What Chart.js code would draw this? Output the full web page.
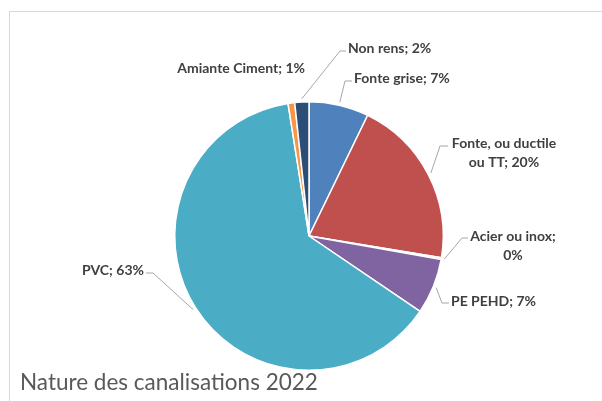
<!DOCTYPE html>
<html lang="fr">
  <head>
    <meta charset="UTF-8" />
    <script src="https://cdn.jsdelivr.net/npm/chart.js"></script>
    <title>Nature des canalisations 2022</title>
    <style>
      body { margin: 0; background: #fff; }
      #wrap { position: relative; width: 602px; height: 401px; overflow: hidden; }
      #frame {
        position: absolute; left: 9px; top: 11px; width: 620px; height: 420px;
        border: 1.5px solid #d9d9d9;
      }
      #title {
        position: absolute; left: 20px; top: 368px;
        font-family: Lato, "Open Sans", sans-serif; font-size: 22.5px; color: #595959;
      }
      canvas { position: absolute; left: 0; top: 0; }
    </style>
  </head>
  <body>
    <div id="wrap">
      <div id="frame"></div>
      <canvas id="pie" width="602" height="401"></canvas>
      <div id="title">Nature des canalisations 2022</div>
    </div>

    <script>
      // data (percent shares)
      const categories = [
        "Fonte grise",
        "Fonte, ou ductile ou TT",
        "Acier ou inox",
        "PE PEHD",
        "PVC",
        "Amiante Ciment",
        "Non rens",
      ];
      const shares = [7.2, 20.4, 0.2, 6.7, 63.0, 0.8, 1.7];
      const colors = ["#4f81bd", "#c0504d", "#9bbb59", "#8064a2", "#4bacc6", "#f79646", "#2c4d75"];

      // where each label sits (text anchor), elbow of leader line, wrap width
      const labelLayout = [
        { x: 354, y: 78, align: "left", elbow: [345, 81], end: 352 },
        { x: 504, y: 143, align: "center", elbow: [440, 146], end: 448, wrap: 112 },
        { x: 513, y: 236, align: "center", elbow: [462, 238], end: 468, wrap: 105 },
        { x: 451, y: 301, align: "left", elbow: [442, 303], end: 449 },
        { x: 144, y: 270, align: "right", elbow: [153, 273], end: 146 },
        { x: 305, y: 68, align: "right", noLine: true },
        { x: 348, y: 48, align: "left", elbow: [340, 51], end: 346 },
      ];

      const wrapText = (ctx, text, maxW) => {
        if (!maxW) return [text];
        const words = text.split(" ");
        const lines = [];
        let cur = "";
        words.forEach((w) => {
          const test = cur ? cur + " " + w : w;
          if (cur && ctx.measureText(test).width > maxW) {
            lines.push(cur);
            cur = w;
          } else {
            cur = test;
          }
        });
        lines.push(cur);
        return lines;
      };

      const labelPlugin = {
        id: "pieLabels",
        afterDatasetsDraw(chart) {
          const ctx = chart.ctx;
          const meta = chart.getDatasetMeta(0);
          const total = shares.reduce((a, b) => a + b, 0);
          ctx.save();
          ctx.font = "bold 14px Lato, 'Open Sans', sans-serif";
          ctx.textBaseline = "middle";
          meta.data.forEach((arc, i) => {
            const p = arc.getProps(["x", "y", "startAngle", "endAngle", "outerRadius"], true);
            const mid = (p.startAngle + p.endAngle) / 2;
            const r = p.outerRadius + 3;
            const sx = p.x + Math.cos(mid) * r;
            const sy = p.y + Math.sin(mid) * r;
            const lay = labelLayout[i];

            if (!lay.noLine) {
              ctx.strokeStyle = "#a6a6a6";
              ctx.lineWidth = 1;
              ctx.beginPath();
              ctx.moveTo(sx, sy);
              ctx.lineTo(lay.elbow[0], lay.elbow[1]);
              ctx.lineTo(lay.end, lay.elbow[1]);
              ctx.stroke();
            }

            const pct = Math.round((shares[i] / total) * 100);
            const text = categories[i] + "; " + pct + "%";
            const lines = wrapText(ctx, text, lay.wrap);
            ctx.fillStyle = "#404040";
            ctx.textAlign = lay.align;
            lines.forEach((ln, k) => ctx.fillText(ln, lay.x, lay.y + k * 19));
          });
          ctx.restore();
        },
      };

      const chart = new Chart(document.getElementById("pie"), {
        type: "pie",
        data: {
          labels: categories,
          datasets: [
            {
              data: shares,
              backgroundColor: colors,
              borderColor: "#ffffff",
              borderWidth: 1.5,
            },
          ],
        },
        options: {
          responsive: false,
          animation: false,
          events: [],
          layout: { padding: { left: 174, right: 158, top: 101, bottom: 30 } },
          plugins: {
            legend: { display: false },
            tooltip: { enabled: false },
          },
        },
        plugins: [labelPlugin],
      });
    </script>
  </body>
</html>
